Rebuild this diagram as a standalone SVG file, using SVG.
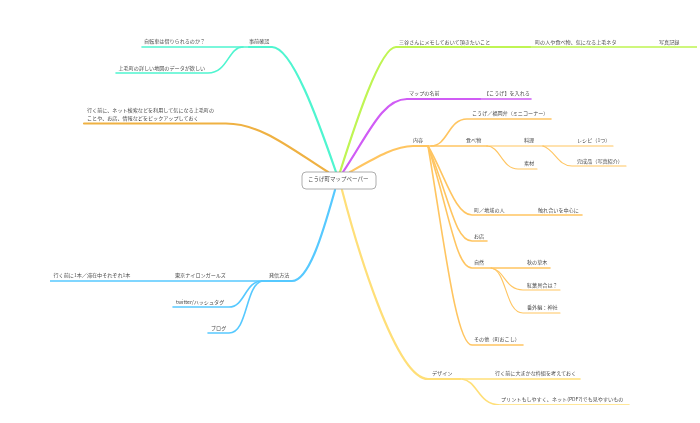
<svg xmlns="http://www.w3.org/2000/svg" width="700" height="423" viewBox="0 0 700 423">
<style>
text{font-family:"Noto Sans CJK JP","Liberation Sans",sans-serif;font-size:5.1px;fill:#4a4a4a}
path{fill:none;stroke-linecap:round}
.w2{stroke-width:2.2}.w1{stroke-width:1.6}.w0{stroke-width:1.1}
.teal{stroke:#4ff5d0}.amber{stroke:#efb142}.blue{stroke:#57c9ff}.lime{stroke:#bff552}.purple{stroke:#d05cf5}.orange{stroke:#ffc561}.yellow{stroke:#ffdf78}
</style>
<defs><filter id="soft" x="0" y="0" width="100%" height="100%"><feGaussianBlur stdDeviation="0.25"/></filter></defs>
<rect width="700" height="423" fill="#fff"/>
<g filter="url(#soft)">
<g id="connectors">
<path class="teal w2" d="M336,172C318,120 292,47 272,47H249"/>
<path class="teal w1" d="M249,47H142"/>
<path class="teal w1" d="M243,47C228,47 228,73 208,73H116"/>
<path class="amber w2" d="M328,172C290,148 260,123 225,123.500H84"/>
<path class="blue w2" d="M335,190C325,225 310,281 292,281H262"/>
<path class="blue w1" d="M262,281H50"/>
<path class="blue w1" d="M262,281C245,281 245,307 229,307H173"/>
<path class="blue w1" d="M262,281C245,285 248,333 229,333H208"/>
<path class="lime w2" d="M340,172C355,125 380,47 396,47H530"/>
<path class="lime w1" d="M530,47H697"/>
<path class="purple w2" d="M343,172C368,135 382,99 407,99H480"/>
<path class="purple w1" d="M480,99H531"/>
<path class="orange w2" d="M350,172C375,158 395,146 413,146H428"/>
<path class="orange w1" d="M428,146H487"/>
<path class="orange w0" d="M487,146H543"/>
<path class="orange w0" d="M543,146H613"/>
<path class="orange w0" d="M543,146C555,150 558,166 572,166H626"/>
<path class="orange w1" d="M431,146C448,146 448,119 467,119H551"/>
<path class="orange w0" d="M487,146C500,146 502,169 518,169H537"/>
<path class="orange w1" d="M428,146C445,175 455,215 472,215H582"/>
<path class="orange w1" d="M428,146C450,200 455,241 472,241H487"/>
<path class="orange w1" d="M428,146C450,215 456,268 472,268H550"/>
<path class="orange w0" d="M491,268C505,270 505,290 523,290H560"/>
<path class="orange w0" d="M491,268C507,270 505,313 523,313H560"/>
<path class="orange w1" d="M428,146C444,240 456,345 472,345H523"/>
<path class="yellow w2" d="M342,190C355,240 395,379 428,379H460"/>
<path class="yellow w1" d="M460,379H580"/>
<path class="yellow w1" d="M462,379C478,381 478,405 500,405H629"/>
</g>
<g id="center"><rect x="302" y="172" width="74" height="17" rx="4" fill="#fff" stroke="#999" stroke-width="0.8"/><text x="308" y="180.700" style="font-size:5.500px">こうげ町マップペーパー</text></g>
<g id="n-jizen"><text x="249" y="43">事前確認</text></g>
<g id="n-jitensha"><text x="144" y="43">自転車は借りられるのか？</text></g>
<g id="n-chizu"><text x="118.500" y="69.700">上毛町の詳しい地図のデータが欲しい</text></g>
<g id="n-mae"><text x="87" y="111.500">行く前に、ネット検索などを利用して気になる上毛町の</text><text x="87" y="119.500">ことや、お店、情報などをピックアップしておく</text></g>
<g id="n-hasshin"><text x="269" y="277">発信方法</text></g>
<g id="n-tokyo"><text x="175" y="277">東京ナイロンガールズ</text></g>
<g id="n-ippon"><text x="53.500" y="277">行く前に1本／滞在中それぞれ1本</text></g>
<g id="n-twitter"><text x="176" y="303.500">twitter/ハッシュタグ</text></g>
<g id="n-blog"><text x="211" y="329.500">ブログ</text></g>
<g id="n-mitani"><text x="399" y="43.500">三谷さんにメモしておいて頂きたいこと</text></g>
<g id="n-neta"><text x="535" y="43.500">町の人や食べ物、気になる上毛ネタ</text></g>
<g id="n-shashin"><text x="659" y="43.500">写真記録</text></g>
<g id="n-namae"><text x="409" y="95">マップの名前</text></g>
<g id="n-ireru"><text x="484" y="95">【こうげ】を入れる</text></g>
<g id="n-naiyo"><text x="413" y="142">内容</text></g>
<g id="n-fukuoka"><text x="472" y="114.500">こうげ／福岡弁（ミニコーナー）</text></g>
<g id="n-tabemono"><text x="466" y="142">食べ物</text></g>
<g id="n-ryori"><text x="524" y="142">料理</text></g>
<g id="n-recipe"><text x="577" y="142">レシピ（1つ）</text></g>
<g id="n-kansei"><text x="577" y="162.700">完成品（写真紹介）</text></g>
<g id="n-sozai"><text x="524" y="164.700">素材</text></g>
<g id="n-hito"><text x="474" y="211.500">町／地域の人</text></g>
<g id="n-fureai"><text x="538" y="211.500">触れ合いを中心に</text></g>
<g id="n-omise"><text x="474" y="237.500">お店</text></g>
<g id="n-shizen"><text x="474" y="264">自然</text></g>
<g id="n-kusaki"><text x="527" y="264">秋の草木</text></g>
<g id="n-koyo"><text x="527" y="286.500">紅葉具合は？</text></g>
<g id="n-jinja"><text x="527" y="309">番外編：神社</text></g>
<g id="n-sonota"><text x="474" y="341">その他（町おこし）</text></g>
<g id="n-design"><text x="432" y="375">デザイン</text></g>
<g id="n-wakugumi"><text x="495" y="375">行く前に大まかな枠組を考えておく</text></g>
<g id="n-print"><text x="501" y="401">プリントもしやすく、ネット(PDF?)でも見やすいもの</text></g>
</g>
</svg>
